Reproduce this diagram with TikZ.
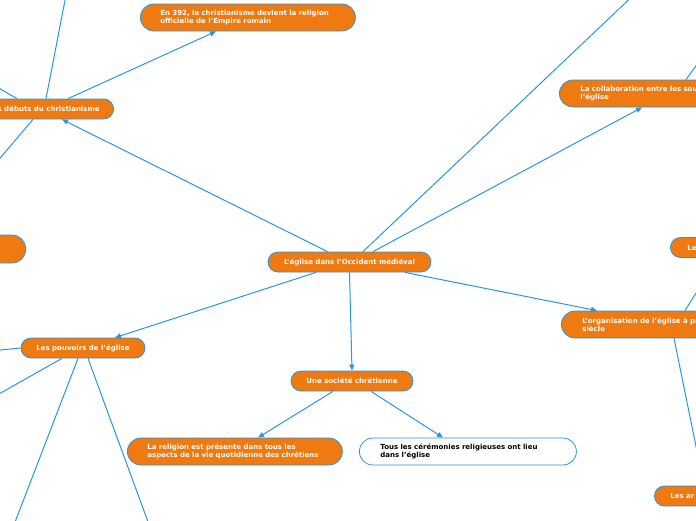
\documentclass[tikz,border=0pt]{standalone}
\usepackage{fontspec}
\setmainfont{DejaVu Sans}
\usepackage{tikz}
\usetikzlibrary{shapes}
\usetikzlibrary{positioning}
\usetikzlibrary{arrows.meta}
\usetikzlibrary{calc}
\definecolor{mmorange}{HTML}{EE7A11}
\definecolor{mmblue}{HTML}{2A96DC}

\begin{document}
\begin{tikzpicture}[x=1pt,y=-1pt]
\tikzstyle{topic}=[rectangle, rounded corners=10pt, fill=mmorange, draw=mmblue, line width=0.8pt, text=white, font=\fontsize{7}{8.5}\selectfont\bfseries, minimum height=20pt, inner xsep=0pt, inner ysep=0pt, align=left]
\tikzstyle{bigtopic}=[topic, rounded corners=13.5pt, minimum height=27pt]
\tikzstyle{link}=[draw=mmblue, line width=1pt, -{Triangle[length=6pt,width=5pt]}]
\useasboundingbox (0,0) rectangle (696,520);
\clip (0,0) rectangle (696,520);

\node[topic, minimum width=163pt, align=center] (central) at (349.5,262) {L'église dans l'Occident médiéval};
\node[topic, anchor=east, inner xsep=14pt] (debuts) at (114,109) {Les débuts du christianisme};
\node[bigtopic, anchor=west, text width=175pt, inner xsep=20pt] (en392) at (140,17.5) {En 392, le christianisme devient la religion\\officielle de l'Empire romain};
\node[bigtopic, anchor=west, text width=200pt, inner xsep=21pt] (collab) at (559,93.5) {La collaboration entre les sou\\l'église};
\node[topic, anchor=west, text width=60pt, inner xsep=17pt] (le) at (670,247.5) {Le};
\node[bigtopic, anchor=west, text width=200pt, inner xsep=21pt] (organisation) at (561,324.5) {L'organisation de l'église à pa\\siècle};
\node[topic, anchor=west, text width=60pt, inner xsep=16pt] (lesar) at (654,496) {Les ar};
\node[bigtopic, anchor=east, minimum width=60pt, minimum height=28pt] (gauche) at (26,249) {};
\node[topic, minimum width=124pt, align=center] (pouvoirs) at (83,348) {Les pouvoirs de l'église};
\node[topic, minimum width=122pt, align=center] (societe) at (352,381) {Une société chrétienne};
\node[bigtopic, anchor=west, text width=175pt, inner xsep=20pt] (religion) at (127,451.5) {La religion est présente dans tous les\\aspects de la vie quotidienne des chrétiens};
\node[bigtopic, anchor=west, text width=175pt, inner xsep=21pt, fill=white, text=black] (ceremonies) at (359,451.5) {Tous les cérémonies religieuses ont lieu\\dans l'église};

% bouts hors du cadre
\coordinate (hautD) at (639,-10);
\coordinate (hautG) at (67,-10);
\coordinate (gaucheA) at (-10,83);
\coordinate (gaucheB) at (-10,170);
\coordinate (gaucheC) at (-10,351);
\coordinate (gaucheD) at (-10,399);
\coordinate (basA) at (12,530);
\coordinate (basB) at (151,530);
\coordinate (coinD) at (706,52);

\draw[link] ($(central.north)+(-22,0)$) -- ($(debuts.south east)+(-52,0)$);
\draw[link] ($(central.north)+(13.5,0)$) -- (hautD);
\draw[link] ($(central.north)+(23.5,0)$) -- ($(collab.south west)+(83,0)$);
\draw[link] ($(central.south)+(55.5,0)$) -- ($(organisation.north west)+(36,0)$);
\draw[link] (central.south) -- (societe.north);
\draw[link] ($(central.south)+(-33.5,0)$) -- ($(pouvoirs.north)+(32,0)$);

\draw[link] ($(debuts.north east)+(-46,0)$) -- ($(en392.south west)+(76,0)$);
\draw[link] ($(debuts.north east)+(-68,0)$) -- (hautG);
\draw[link] ($(debuts.north east)+(-97,0)$) -- (gaucheA);
\draw[link] ($(debuts.south east)+(-81,0)$) -- (gaucheB);

\draw[link] ($(societe.south)+(-19,0)$) -- ($(religion.north west)+(131,0)$);
\draw[link] ($(societe.south)+(19,0)$) -- ($(ceremonies.north west)+(84,0)$);

\draw[link] (pouvoirs.west) -- (gaucheC);
\draw[link] ($(pouvoirs.south)+(-21,0)$) -- (gaucheD);
\draw[link] ($(pouvoirs.south)+(-5,0)$) -- (basA);
\draw[link] ($(pouvoirs.south)+(5,0)$) -- (basB);

\draw[link] ($(collab.north west)+(127,0)$) -- (coinD);
\draw[link] ($(organisation.north west)+(124,0)$) -- ($(le.south west)+(48,0)$);
\draw[link] ($(organisation.south west)+(113,0)$) -- ($(lesar.north west)+(50,0)$);
\end{tikzpicture}
\end{document}
